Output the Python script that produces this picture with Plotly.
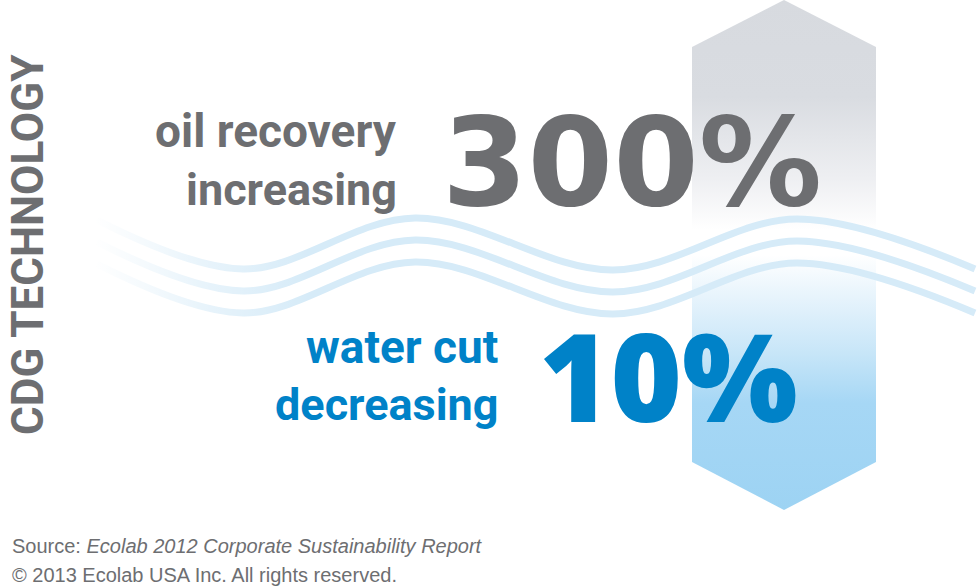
import plotly.graph_objects as go

# headline figures
oil_label = ["oil recovery", "increasing"]
oil_value = "300%"
water_label = ["water cut", "decreasing"]
water_value = "10%"
side_title = "CDG TECHNOLOGY"
source_note = "Source: <i>Ecolab 2012 Corporate Sustainability Report</i>"
copyright_note = "© 2013 Ecolab USA Inc. All rights reserved."

# arrow-shaped column behind the numbers
column_x = [692, 784, 876, 876, 784, 692, 692]
column_y = [47, 0, 47, 462, 510, 462, 47]

# wave crests / troughs of the top wave, the others are shifted down
wave_x = [97, 243, 415, 613, 797, 975]
wave_y = [220, 269, 218, 270, 219, 269]
wave_offsets = [0, 22, 44]

GREY = "#6d6e71"
BLUE = "#0082c8"
LABEL_FONT = "Roboto, Lato, sans-serif"
WIDE = "DejaVu Sans, Verdana, sans-serif"
ROUND = "Open Sans, Roboto, sans-serif"
PLAIN = "Liberation Sans, Arial, sans-serif"

W, H = 979, 586

fig = go.Figure()

fig.add_trace(go.Scatter(
    x=column_x, y=column_y, mode="lines", fill="toself",
    line=dict(width=0),
    fillgradient=dict(
        type="vertical", start=0, stop=510,
        colorscale=[
            [0.0, "#d7dadf"],
            [0.19, "#d9dce1"],
            [0.35, "#eeeff2"],
            [0.45, "#ffffff"],
            [0.5, "#ffffff"],
            [0.61, "#dff0fb"],
            [0.69, "#c8e6f8"],
            [0.79, "#a6d7f5"],
            [1.0, "#9dd3f3"],
        ],
    ),
    hoverinfo="skip",
))

for off in wave_offsets:
    fig.add_trace(go.Scatter(
        x=wave_x, y=[v + off for v in wave_y], mode="lines",
        line=dict(color="#d6ebf8", width=7, shape="spline", smoothing=1.0),
        hoverinfo="skip",
    ))

# fade the left end of the waves into the background
fig.add_trace(go.Scatter(
    x=[80, 310, 310, 80, 80], y=[205, 205, 330, 330, 205],
    mode="lines", fill="toself", line=dict(width=0),
    fillgradient=dict(
        type="horizontal", start=95, stop=310,
        colorscale=[[0, "rgba(255,255,255,1)"], [0.5, "rgba(255,255,255,0.45)"],
                    [1, "rgba(255,255,255,0)"]],
    ),
    hoverinfo="skip",
))


def label(text, x, y, size, color, family, anchor="right", angle=0, weight="bold"):
    fig.add_annotation(
        text=text, x=x, y=y, xref="x", yref="y", showarrow=False,
        xanchor=anchor, yanchor="middle", textangle=angle,
        font=dict(size=size, color=color, family=family, weight=weight),
    )


label(oil_label[0], 399, 131, 46, GREY, LABEL_FONT)
label(oil_label[1], 399, 189, 45, GREY, LABEL_FONT)
label(oil_value, 440, 162, 123, GREY, WIDE, anchor="left")

label(water_label[0], 500, 347, 46, BLUE, LABEL_FONT)
label(water_label[1], 500, 404, 45, BLUE, LABEL_FONT)
label(water_value, 800, 375, 122, BLUE, ROUND, weight=800)

label(side_title, 28, 245, 44, GREY, LABEL_FONT, anchor="center", angle=-90)

for txt, yy in [(source_note, 546), (copyright_note, 575)]:
    fig.add_annotation(
        text=txt, x=10, y=yy, xref="x", yref="y", showarrow=False,
        xanchor="left", yanchor="middle",
        font=dict(size=20, color=GREY, family=PLAIN),
    )

fig.update_layout(
    width=W, height=H,
    margin=dict(l=0, r=0, t=0, b=0),
    paper_bgcolor="white", plot_bgcolor="white",
    showlegend=False,
    xaxis=dict(range=[0, W], visible=False, fixedrange=True),
    yaxis=dict(range=[H, 0], visible=False, fixedrange=True),
)

fig.write_html("out.html", config={"displayModeBar": False},
               post_script="document.body.style.margin='0px';")
